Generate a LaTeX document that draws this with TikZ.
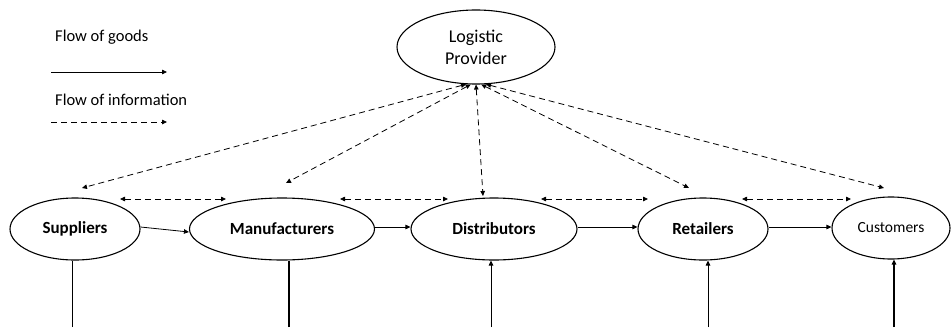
\documentclass[tikz,border=0pt]{standalone}
\usepackage{fontspec}
\setmainfont{Carlito}
\usetikzlibrary{shapes.geometric,arrows.meta}
\begin{document}
\begin{tikzpicture}[x=1pt,y=-1pt,
  actor/.style={draw,ellipse,line width=1.1pt,inner sep=0pt,font=\bfseries\fontsize{17}{18}\selectfont},
  goods/.style={line width=0.8pt,-{Triangle[length=5pt,width=4.5pt]}},
  info/.style={line width=0.8pt,dash pattern=on 6pt off 4pt,{Triangle[length=5pt,width=4.5pt]}-{Triangle[length=5pt,width=4.5pt]}},
  infoone/.style={line width=0.8pt,dash pattern=on 6pt off 4pt,-{Triangle[length=5pt,width=4.5pt]}},
  legend/.style={anchor=west,inner sep=0pt,font=\fontsize{16.5}{18}\selectfont}]
\useasboundingbox (0,0) rectangle (952,327);

% legend
\node[legend] (lg1) at (55,37) {Flow of goods};
\node[legend] (lg2) at (55,100) {Flow of information};
\coordinate (g0) at (51,72);  \coordinate (g1) at (167,72);
\coordinate (i0) at (51,122); \coordinate (i1) at (167,122);
\draw[goods] (g0) -- (g1);
\draw[infoone] (i0) -- (i1);

% actors
\node[actor,minimum width=158pt,minimum height=74pt,align=center,font=\fontsize{18}{22}\selectfont]
  (lp) at (476,47) {Logistic\\Provider};
\node[actor,minimum width=130pt,minimum height=62pt] (sup) at (75,229) {Suppliers};
\node[actor,minimum width=185pt,minimum height=62pt] (man) at (282,229) {Manufacturers};
\node[actor,minimum width=166pt,minimum height=62pt] (dis) at (494,229) {Distributors};
\node[actor,minimum width=130pt,minimum height=62pt] (ret) at (703,229) {Retailers};
\node[actor,minimum width=118pt,minimum height=62pt,font=\fontsize{15.5}{17}\selectfont] (cus) at (891,228) {Customers};

% flow of goods along the chain
\draw[goods] ([yshift=2pt]sup.east) -- ([yshift=-3pt]man.west);
\draw[goods] ([yshift=2pt]man.east) -- ([yshift=2pt]dis.west);
\draw[goods] ([yshift=2pt]dis.east) -- ([yshift=2pt]ret.west);
\draw[goods] ([yshift=2pt]ret.east) -- ([yshift=1pt]cus.west);

% information between neighbours
\coordinate (h1a) at (120,199); \coordinate (h1b) at (226,199);
\coordinate (h2a) at (340,199); \coordinate (h2b) at (448,199);
\coordinate (h3a) at (541,199); \coordinate (h3b) at (648,199);
\coordinate (h4a) at (742,199); \coordinate (h4b) at (851,199);
\draw[info] (h1a) -- (h1b);
\draw[info] (h2a) -- (h2b);
\draw[info] (h3a) -- (h3b);
\draw[info] (h4a) -- (h4b);

% information with the logistic provider
\coordinate (t1) at (82,188);
\coordinate (t2) at (286,183);
\coordinate (t3) at (483,196);
\coordinate (t4) at (689,188);
\coordinate (t5) at (884,188);
\draw[info] (lp.255) -- (t1);
\draw[info] (lp.262) -- (t2);
\draw[info] (lp.270) -- (t3);
\draw[info] (lp.278) -- (t4);
\draw[info] (lp.285) -- (t5);

% links from below
\coordinate (b1) at (72,327);
\coordinate (b2) at (289,327);
\coordinate (b3) at (491,327);
\coordinate (b4) at (708,327);
\coordinate (b5) at (894,327);
\draw[line width=1pt] (b1) -- (b1 |- sup.south);
\draw[line width=1.2pt] (b2) -- (b2 |- man.south);
\draw[goods,line width=1pt] (b3) -- (b3 |- dis.south);
\draw[goods,line width=1pt] (b4) -- (b4 |- ret.south);
\draw[goods,line width=1.2pt] (b5) -- (b5 |- cus.south);
\end{tikzpicture}
\end{document}
